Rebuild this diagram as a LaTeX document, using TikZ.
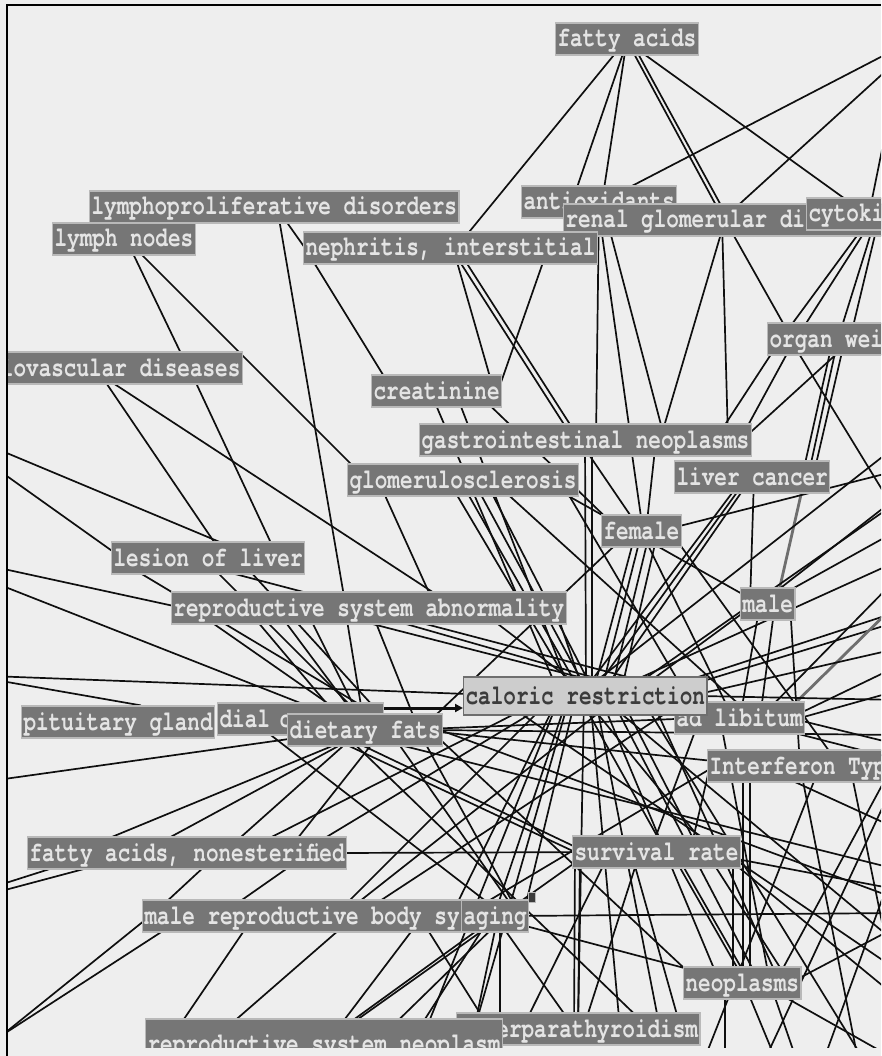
\documentclass[tikz,border=0pt]{standalone}
\usepackage{fontspec}
\newfontfamily\monof[FakeStretch=0.75]{texgyrecursor-bold.otf}
\usetikzlibrary{arrows.meta}
\definecolor{bgc}{RGB}{238,238,238}
\definecolor{boxc}{RGB}{118,118,118}
\definecolor{boxb}{RGB}{185,185,185}
\definecolor{txtc}{RGB}{228,228,228}
\definecolor{crfill}{RGB}{205,205,205}
\definecolor{crtext}{RGB}{60,60,60}
\definecolor{lnc}{RGB}{15,15,15}
\definecolor{lng}{RGB}{110,110,110}
\tikzset{
 box/.style={rectangle, anchor=west, fill=boxc, draw=boxb, line width=1.2pt, text=txtc,
   font=\monof\fontsize{28}{28}\selectfont, inner xsep=2pt, inner ysep=0pt,
   minimum height=32pt, text height=18pt, text depth=2pt},
 crbox/.style={box, fill=crfill, text=crtext, draw=lng, minimum height=38pt},
 ghost/.style={draw=none, fill=none},
 shown/.style={},
 lnk/.style={draw=lnc, line width=1.7pt},
 graylnk/.style={draw=lng, line width=2.8pt},
}
\newcommand\keep[1]{#1}
\newcommand\edg[5][lnk]{\draw[#1] (#3,0 |- #2) -- (#5,0 |- #4);}
\newcommand\placenodes[2]{%
 \node[box,#1] (anti) at (521,202) {#2{antioxidants}};
 \node[box,#1] (rgd) at (563,220) {#2{renal glomerular diseases}};
 \node[box,#1] (cyt) at (806,214) {#2{cytokines}};
 \node[box,#1] (fa) at (555,39) {#2{fatty acids}};
 \node[box,#1] (lpd) at (89,207) {#2{lymphoproliferative disorders}};
 \node[box,#1] (ln) at (52,239) {#2{lymph nodes}};
 \node[box,#1] (nep) at (303,248) {#2{nephritis, interstitial}};
 \node[box,#1] (org) at (767,339) {#2{organ weight}};
 \node[box,#1] (cvd) at (-52,368) {#2{cardiovascular diseases}};
 \node[box,#1] (cre) at (371,391) {#2{creatinine}};
 \node[box,#1] (gin) at (419,440) {#2{gastrointestinal neoplasms}};
 \node[box,#1] (glo) at (347,480) {#2{glomerulosclerosis}};
 \node[box,#1] (lc) at (674,477) {#2{liver cancer}};
 \node[box,#1] (fem) at (601,531) {#2{female}};
 \node[box,#1] (lol) at (111,558) {#2{lesion of liver}};
 \node[box,#1] (rsa) at (171,608) {#2{reproductive system abnormality}};
 \node[box,#1] (male) at (740,604) {#2{male}};
 \node[box,#1] (adl) at (674,718) {#2{ad libitum}};
 \node[crbox,#1] (cr) at (463,696) {#2{caloric restriction}};
 \node[box,#1] (pit) at (21,722) {#2{pituitary gland}};
 \node[box,#1,text width=162pt,align=left] (dial) at (217,719) {#2{dial c}};
 \node[box,#1] (df) at (287,730) {#2{dietary fats}};
 \node[box,#1] (ifn) at (707,766) {#2{Interferon Type II}};
 \node[box,#1] (fan) at (27,853) {#2{fatty acids, nonesterified}};
 \node[box,#1] (sr) at (572,852) {#2{survival rate}};
 \node[box,#1] (mrb) at (142,916) {#2{male reproductive body system}};
 \node[box,#1] (ag) at (461,916) {#2{aging}};
 \node[box,#1] (neo) at (683,983) {#2{neoplasms}};
 \node[box,#1] (hpt) at (456,1029) {#2{hyperparathyroidism}};
 \node[box,#1,minimum height=50pt] (rsn) at (145,1044) {#2{reproductive system neoplasm}};
}
\begin{document}
\begin{tikzpicture}[x=1pt,y=-1pt]
\useasboundingbox (0,0) rectangle (881,1056);
\fill[bgc] (0,0) rectangle (881,1056);
\draw[line width=1.5pt,black] (7,1056) -- (7,5) -- (881,5);
\begin{scope}
\clip (8,6) rectangle (881,1047);
\placenodes{ghost}{\phantom}
% free ends off the canvas
\coordinate (R1) at (900,47); \coordinate (R2) at (900,58); \coordinate (R3) at (884,140);
\coordinate (R4) at (900,519); \coordinate (R5) at (900,443); \coordinate (R6) at (900,495);
\coordinate (R7) at (900,529); \coordinate (R8) at (900,611); \coordinate (R9) at (900,621);
\coordinate (Ra) at (900,470); \coordinate (Rb) at (900,500); \coordinate (Rc) at (900,560);
\coordinate (Rd) at (900,575); \coordinate (Re) at (900,600); \coordinate (Rf) at (900,648);
\coordinate (Rg) at (900,665); \coordinate (Rh) at (900,690); \coordinate (Ri) at (900,700);
\coordinate (Rj) at (900,735); \coordinate (Rk) at (900,760); \coordinate (Rl) at (900,745);
\coordinate (Rm) at (900,870); \coordinate (Rn) at (900,900); \coordinate (R19) at (900,913);
\coordinate (R20) at (900,972); \coordinate (R21) at (900,946); \coordinate (R22) at (900,1062);
\coordinate (R23) at (900,925); \coordinate (R24) at (900,752); \coordinate (R25) at (900,830);
\coordinate (R26) at (900,890); \coordinate (R27) at (900,1000); \coordinate (R28) at (900,770);
\coordinate (R29) at (900,850); \coordinate (R30) at (900,1010);
\coordinate (L1) at (-10,446); \coordinate (L2) at (-10,464); \coordinate (L3) at (-10,566);
\coordinate (L4) at (-10,581); \coordinate (L5) at (-10,676); \coordinate (L6) at (-10,679);
\coordinate (L7) at (-10,781); \coordinate (L8) at (-10,894); \coordinate (L9) at (-10,888);
\coordinate (L10) at (-10,1043); \coordinate (L11) at (-10,1045);
\coordinate (B1) at (870,1070); \coordinate (B2) at (725,1070); \coordinate (B3) at (780,1070);
\coordinate (B4) at (800,1070); \coordinate (B5) at (860,1070); \coordinate (B6) at (760,1070);
\coordinate (B7) at (820,1070); \coordinate (B8) at (700,1070);
% ---- upper part
\edg{fa}{627}{nep}{456} \edg{fa}{628}{anti}{572} \edg{fa}{627}{anti}{602}
\edg{fa}{626}{rgd}{724} \edg{fa}{630}{rgd}{729} \edg{fa}{623}{cyt}{866}
\draw[lnk] (R1) -- (601,0 |- anti); \draw[lnk] (R2) -- (722,0 |- rgd); \draw[lnk] (R3) -- (869,0 |- cyt);
\edg{lpd}{277}{rsa}{346} \edg{lpd}{276}{nep}{305}
\edg{ln}{126}{cvd}{188} \edg{ln}{126}{glo}{367}
\edg{nep}{305}{cre}{393} \edg{nep}{453}{cre}{494} \edg{nep}{548}{cre}{498}
\edg{nep}{451}{gin}{574} \edg{nep}{457}{gin}{580}
\edg{anti}{599}{gin}{596}
\edg{rgd}{600}{gin}{631} \edg{rgd}{607}{gin}{665} \edg{rgd}{725}{gin}{660} \edg{rgd}{722}{gin}{728}
\edg{rgd}{725}{org}{792}
\edg{cyt}{873}{org}{781} \edg{cyt}{876}{org}{796} \edg{cyt}{877}{org}{838} \edg{cyt}{880}{org}{850}
\edg{org}{781}{gin}{715} \edg{org}{795}{gin}{740} \edg{org}{853}{gin}{742}
\edg{org}{833}{lc}{802} \edg{org}{838}{lc}{808} \edg{org}{845}{lc}{813}
\draw[lnk] (790,0 |- org) -- (R4);
\edg{cvd}{96}{lol}{225} \edg{cvd}{189}{lol}{278} \edg{cvd}{90}{rsa}{457}
\draw[lnk] (L1) -- (258,0 |- lol); \draw[lnk] (L2) -- (122,0 |- lol);
\edg{glo}{378}{rsa}{436}
\edg{glo}{448}{cr}{576} \edg{glo}{460}{cr}{583} \edg{glo}{473}{cr}{590} \edg{glo}{485}{cr}{596}
\edg{cre}{430}{cr}{560} \edg{cre}{455}{cr}{572} \edg{cre}{475}{fem}{620}
% ---- around the hub
\edg{gin}{585}{cr}{586} \edg{gin}{592}{cr}{592}
\edg{gin}{579}{fem}{641} \edg{gin}{630}{fem}{643} \edg{gin}{656}{fem}{646}
\edg{lc}{748}{cr}{590} \edg{lc}{752}{cr}{600} \edg{lc}{744}{cr}{580}
\edg{lc}{754}{male}{750} \edg[graylnk]{lc}{805}{male}{776}
\draw[lnk] (R5) -- (577,0 |- cr); \draw[lnk] (R6) -- (760,0 |- male); \draw[lnk] (R7) -- (765,0 |- male);
\draw[lnk] (R8) -- (640,0 |- cr); \draw[lnk] (R9) -- (654,0 |- cr); \draw[lnk] (Ra) -- (660,0 |- fem);
\draw[lnk] (Rb) -- (620,0 |- cr); \draw[lnk] (Rc) -- (600,0 |- cr); \draw[lnk] (Rd) -- (760,0 |- adl);
\draw[graylnk] (Re) -- (780,0 |- adl); \draw[lnk] (Rf) -- (690,0 |- cr); \draw[lnk] (Rg) -- (790,0 |- adl);
\draw[lnk] (Rh) -- (800,0 |- adl); \draw[lnk] (Ri) -- (700,0 |- cr); \draw[lnk] (Rj) -- (430,0 |- df);
\draw[lnk] (Rl) -- (790,0 |- adl); \draw[lnk] (Rk) -- (650,0 |- cr);
\edg{male}{760}{adl}{740} \edg{male}{775}{adl}{760} \edg{male}{755}{cr}{630} \edg{male}{790}{ifn}{800}
\edg{fem}{636}{cr}{592} \edg{fem}{642}{cr}{600} \edg{fem}{650}{cr}{610} \edg{fem}{658}{cr}{620}
\edg{fem}{630}{df}{420} \edg{fem}{641}{adl}{733} \edg{fem}{670}{ifn}{840}
\edg{glo}{492}{adl}{754} \edg{glo}{540}{male}{760} \edg{glo}{560}{adl}{700}
\edg{rsa}{310}{cr}{653} \edg{rsa}{350}{adl}{735} \edg{rsa}{477}{cr}{592} \edg{rsa}{555}{cr}{585}
\edg{rsa}{191}{df}{366} \edg{rsa}{246}{df}{349} \edg{rsa}{275}{df}{366}
\edg{rsa}{305}{df}{366} \edg{rsa}{345}{df}{365} \edg{rsa}{370}{df}{419}
\edg{lol}{115}{df}{402} \edg{lol}{203}{df}{375} \edg{lol}{238}{df}{395} \edg{lol}{174}{cr}{700}
\draw[lnk] (L3) -- (183,0 |- rsa); \draw[lnk] (L4) -- (341,0 |- dial);
\draw[lnk] (L5) -- (520,0 |- cr); \draw[lnk] (L6) -- ([xshift=120pt]pit.north west);
\draw[lnk] (L7) -- (353,0 |- df);
\draw[lnk,line width=3pt,-{Triangle[length=8pt,width=8pt]}] ([yshift=11pt]dial.east) -- ([yshift=-12pt]cr.west);
% ---- lower part
\edg{cr}{554}{mrb}{334} \edg{cr}{559}{mrb}{451} \edg{cr}{568}{ag}{494} \edg{cr}{576}{ag}{523}
\edg{cr}{584}{hpt}{578} \edg{cr}{579}{sr}{666} \edg{cr}{583}{sr}{711}
\edg{cr}{560}{fan}{300} \edg{cr}{550}{fan}{240} \edg{cr}{560}{rsn}{420} \edg{cr}{570}{rsn}{470}
\edg{cr}{590}{hpt}{620} \edg{cr}{595}{hpt}{660} \edg{cr}{600}{neo}{720} \edg{cr}{610}{neo}{760}
\edg{cr}{620}{sr}{700} \edg{cr}{650}{neo}{780} \edg{cr}{620}{mrb}{341} \edg{cr}{692}{mrb}{357}
\draw[lnk] (640,0 |- cr) -- (B1); \draw[lnk] (495,0 |- cr) -- (R20); \draw[lnk] (600,0 |- cr) -- (R21);
\edg{df}{400}{adl}{700} \edg{df}{420}{ifn}{760} \edg{df}{430}{neo}{700}
\draw[lnk] (340,0 |- df) -- (Rm); \draw[lnk] (440,0 |- df) -- (Rn);
\edg{dial}{250}{ag}{505} \edg{df}{315}{sr}{575} \edg{df}{330}{sr}{586}
\edg{df}{389}{ag}{519} \edg{df}{418}{ag}{520} \edg{df}{340}{hpt}{650}
\edg{ifn}{715}{ag}{463} \edg{ifn}{710}{sr}{690}
\edg{adl}{700}{sr}{650} \edg{adl}{720}{neo}{770}
\edg{fan}{73}{df}{371} \edg{fan}{141}{df}{368} \edg{fan}{223}{df}{361} \edg{fan}{286}{df}{383}
\edg{fan}{219}{mrb}{151} \edg{fan}{309}{mrb}{219} \edg{fan}{340}{sr}{600}
\draw[lnk] (L8) -- (144,0 |- fan); \draw[lnk] (L9) -- (100,0 |- fan);
\draw[lnk] (L10) -- (186,0 |- mrb); \draw[lnk] (L11) -- (150,0 |- mrb);
\edg{mrb}{254}{rsn}{167} \edg{mrb}{355}{rsn}{208} \edg{mrb}{423}{rsn}{326}
\edg{ag}{497}{rsn}{320} \edg{ag}{503}{rsn}{323} \edg{ag}{505}{rsn}{374} \edg{ag}{491}{rsn}{409}
\edg{mrb}{419}{hpt}{490} \edg{ag}{498}{hpt}{474} \edg{ag}{500}{hpt}{500} \edg{ag}{495}{hpt}{575}
\draw[lnk] (510,0 |- ag) -- (R19); \edg{ag}{488}{neo}{741} \edg{sr}{590}{ag}{500}
\edg{sr}{575}{hpt}{574} \edg{sr}{580}{hpt}{578} \edg{sr}{610}{hpt}{522} \edg{sr}{640}{hpt}{583}
\edg{sr}{631}{hpt}{681} \edg{sr}{671}{neo}{746} \edg{sr}{675}{neo}{750} \edg{sr}{706}{neo}{790}
\edg{sr}{733}{neo}{733} \edg{ifn}{743}{neo}{743} \edg{ifn}{750}{neo}{750}
\draw[lnk] (725,0 |- neo) -- (B2); \draw[lnk] (744,0 |- neo) -- (B3); \draw[lnk] (760,0 |- neo) -- (R22);
\draw[lnk] (770,0 |- neo) -- (B4); \draw[lnk] (790,0 |- neo) -- (R23); \draw[lnk] (775,0 |- neo) -- (R24);
\draw[lnk] (760,0 |- ifn) -- (R25); \draw[lnk] (800,0 |- ifn) -- (B5);
\draw[lnk] (700,0 |- sr) -- (R26); \draw[lnk] (720,0 |- sr) -- (R27);
\draw[lnk] (R28) -- (B6); \draw[lnk] (R29) -- (B7);
\draw[lnk] (850,0 |- ifn) -- (R30); \draw[lnk] (820,0 |- ifn) -- (B8);
% ---- visible boxes on top
\placenodes{shown}{\keep}
\node[draw=boxb, fill=boxc!50!black, minimum width=7pt, minimum height=10pt, inner sep=0pt, line width=0.8pt] (agmark) at (532,897) {};
\end{scope}
\end{tikzpicture}
\end{document}
